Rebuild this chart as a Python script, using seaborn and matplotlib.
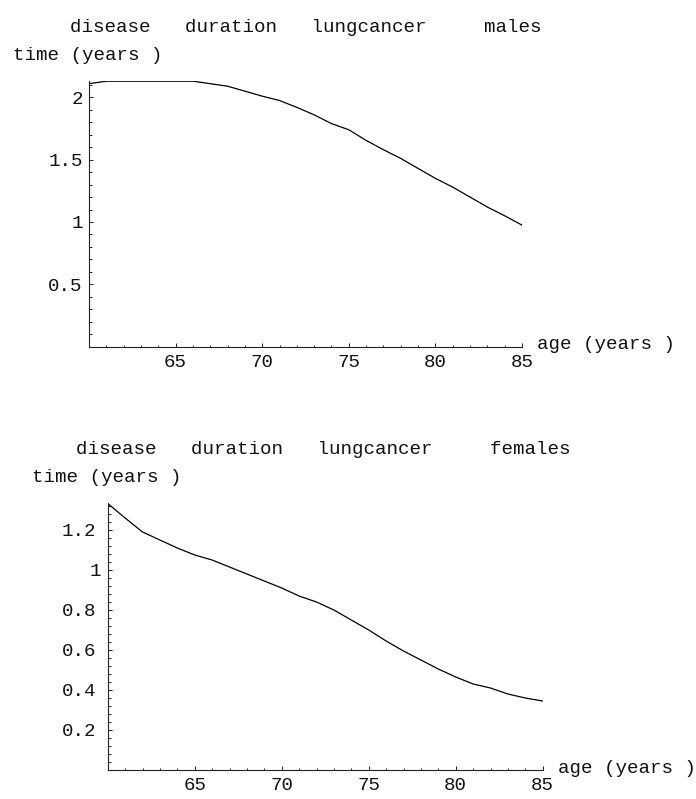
import matplotlib
matplotlib.use("Agg")
import matplotlib.pyplot as plt
from matplotlib.ticker import FixedLocator, MultipleLocator
from matplotlib.transforms import ScaledTranslation
import pandas as pd
import seaborn as sns

# Mean disease duration of lung cancer by age at onset
ages = list(range(60, 86))
male_years = [2.11, 2.13, 2.13, 2.13, 2.13, 2.13, 2.13, 2.11, 2.09, 2.05,
              2.01, 1.975, 1.92, 1.86, 1.79, 1.74, 1.655, 1.58, 1.51, 1.43,
              1.35, 1.28, 1.20, 1.12, 1.05, 0.975]
female_years = [1.333, 1.26, 1.19, 1.15, 1.11, 1.075, 1.05, 1.015, 0.98, 0.945,
                0.91, 0.87, 0.84, 0.80, 0.75, 0.70, 0.645, 0.595, 0.55, 0.505,
                0.465, 0.43, 0.41, 0.38, 0.36, 0.345]

age_ticks = [65, 70, 75, 80, 85]
male_ticks = [0.5, 1.0, 1.5, 2.0]
male_tick_labels = ["0.5", "1", "1.5", "2"]
female_ticks = [0.2, 0.4, 0.6, 0.8, 1.0, 1.2]
female_tick_labels = ["0.2", "0.4", "0.6", "0.8", "1", "1.2"]

male_title = "disease   duration   lungcancer     males"
female_title = "disease   duration   lungcancer     females"
time_label = "time (years )"
age_label = "age (years )"

W, H = 696, 799
FS = 13.8

sns.set_style("white")
plt.rcParams["font.family"] = ["Liberation Mono", "DejaVu Sans Mono"]
plt.rcParams["font.size"] = FS

fig = plt.figure(figsize=(W / 100, H / 100), dpi=100)


def rect(x0, x1, y_top, y_bot):
    return [x0 / W, 1 - y_bot / H, (x1 - x0) / W, (y_bot - y_top) / H]


def put(x, y, s, **kw):
    fig.text(x / W, 1 - y / H, s, fontsize=FS, color="#111111",
             ha="left", va="center", **kw)


panels = [
    dict(values=male_years, box=rect(89, 522, 80.7, 346.6), ymax=2.134,
         ticks=male_ticks, labels=male_tick_labels, minor=0.1, ypad=4.5,
         int_shift=0, title=male_title, title_xy=(70, 27), time_xy=(12.7, 55),
         age_xy=(537, 345)),
    dict(values=female_years, box=rect(107.7, 542.7, 503.4, 770), ymax=1.333,
         ticks=female_ticks, labels=female_tick_labels, minor=0.04, ypad=8.5,
         int_shift=5, title=female_title, title_xy=(76, 450),
         time_xy=(31.7, 477), age_xy=(558, 768.5)),
]

for p in panels:
    ax = fig.add_axes(p["box"])
    df = pd.DataFrame({"age": ages, "duration": p["values"]})
    sns.lineplot(data=df, x="age", y="duration", ax=ax, color="black",
                 linewidth=0.9)
    ax.set_xlim(60, 85)
    ax.set_ylim(0, p["ymax"])
    ax.set_xlabel("")
    ax.set_ylabel("")
    ax.patch.set_alpha(0)
    for side in ("top", "right"):
        ax.spines[side].set_visible(False)
    for side in ("left", "bottom"):
        ax.spines[side].set_linewidth(0.8)
        ax.spines[side].set_color("#222222")
    ax.xaxis.set_major_locator(FixedLocator(age_ticks))
    ax.xaxis.set_minor_locator(MultipleLocator(1))
    ax.set_xticklabels([str(a) for a in age_ticks])
    ax.yaxis.set_major_locator(FixedLocator(p["ticks"]))
    ax.yaxis.set_minor_locator(MultipleLocator(p["minor"]))
    ax.set_yticklabels(p["labels"])
    ax.tick_params(which="both", direction="in", color="#222222", width=0.7,
                   labelsize=FS, labelcolor="#111111", left=True, bottom=True)
    ax.tick_params(which="major", length=3.2)
    ax.tick_params(which="minor", length=1.8)
    ax.tick_params(axis="x", which="major", pad=5)
    ax.tick_params(axis="y", which="major", pad=p["ypad"])

    # whole-number labels sit a little further right than decimal ones
    if p["int_shift"]:
        for lab in ax.get_yticklabels():
            if "." not in lab.get_text():
                lab.set_transform(lab.get_transform() + ScaledTranslation(
                    p["int_shift"] / 100, 0, fig.dpi_scale_trans))

    put(*p["title_xy"], p["title"])
    put(*p["time_xy"], time_label)
    put(*p["age_xy"], age_label)

fig.savefig("out.png", dpi=100, facecolor="white")
